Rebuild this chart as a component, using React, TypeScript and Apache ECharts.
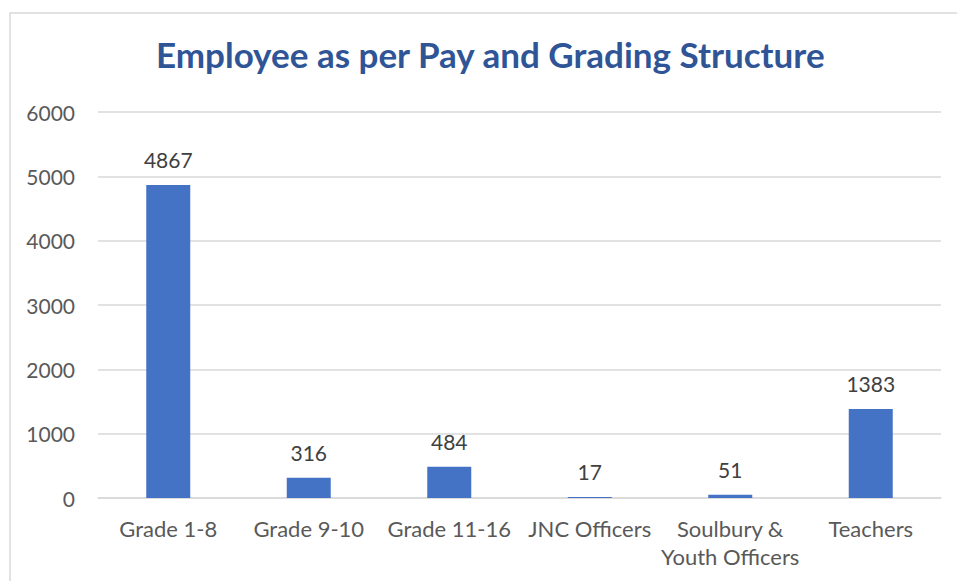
import React, { useEffect, useRef } from "react";
import * as echarts from "echarts";

const categories = [
  "Grade 1-8",
  "Grade 9-10",
  "Grade 11-16",
  "JNC Officers",
  "Soulbury &\nYouth Officers",
  "Teachers",
];
const values = [4867, 316, 484, 17, 51, 1383];
const titleText = "Employee as per Pay and Grading Structure";

export default function App() {
  const ref = useRef<HTMLDivElement>(null);
  useEffect(() => {
    if (!ref.current) return;
    const chart = echarts.init(ref.current, null, { renderer: "svg" });
    const font = "Lato, 'Open Sans', sans-serif";
    chart.setOption({
      animation: false,
      backgroundColor: "#ffffff",
      title: {
        text: titleText,
        left: 151,
        top: 31,
        textStyle: {
          color: "#2F5597",
          fontFamily: font,
          fontWeight: "bold",
          fontSize: 35,
        },
      },
      graphic: [
        {
          type: "rect",
          shape: { x: 10, y: 13, width: 980, height: 620 },
          style: { fill: "none", stroke: "#d9d9d9", lineWidth: 1.5 },
          silent: true,
        },
      ],
      grid: { left: 98, right: 16, top: 112, bottom: 83, containLabel: false },
      xAxis: {
        type: "category",
        data: categories,
        axisLine: { show: true, lineStyle: { color: "#d9d9d9", width: 1.5 } },
        axisTick: { show: false },
        axisLabel: {
          color: "#595959",
          fontFamily: font,
          fontSize: 22,
          margin: 16,
          lineHeight: 28,
          interval: 0,
        },
      },
      yAxis: {
        type: "value",
        min: 0,
        max: 6000,
        interval: 1000,
        axisLine: { show: false },
        axisTick: { show: false },
        splitLine: { lineStyle: { color: "#d9d9d9", width: 1.5 } },
        axisLabel: {
          color: "#595959",
          fontFamily: font,
          fontSize: 21,
          margin: 23,
          formatter: (v: number) => String(v),
        },
      },
      series: [
        {
          type: "bar",
          data: values,
          barWidth: 44,
          itemStyle: { color: "#4472C4" },
          label: {
            show: true,
            position: "top",
            distance: 15,
            color: "#404040",
            fontFamily: font,
            fontSize: 21,
          },
        },
      ],
    });
    return () => chart.dispose();
  }, []);
  return (
    <div
      ref={ref}
      style={{ position: "fixed", left: 0, top: 0, width: 957, height: 581 }}
    />
  );
}
